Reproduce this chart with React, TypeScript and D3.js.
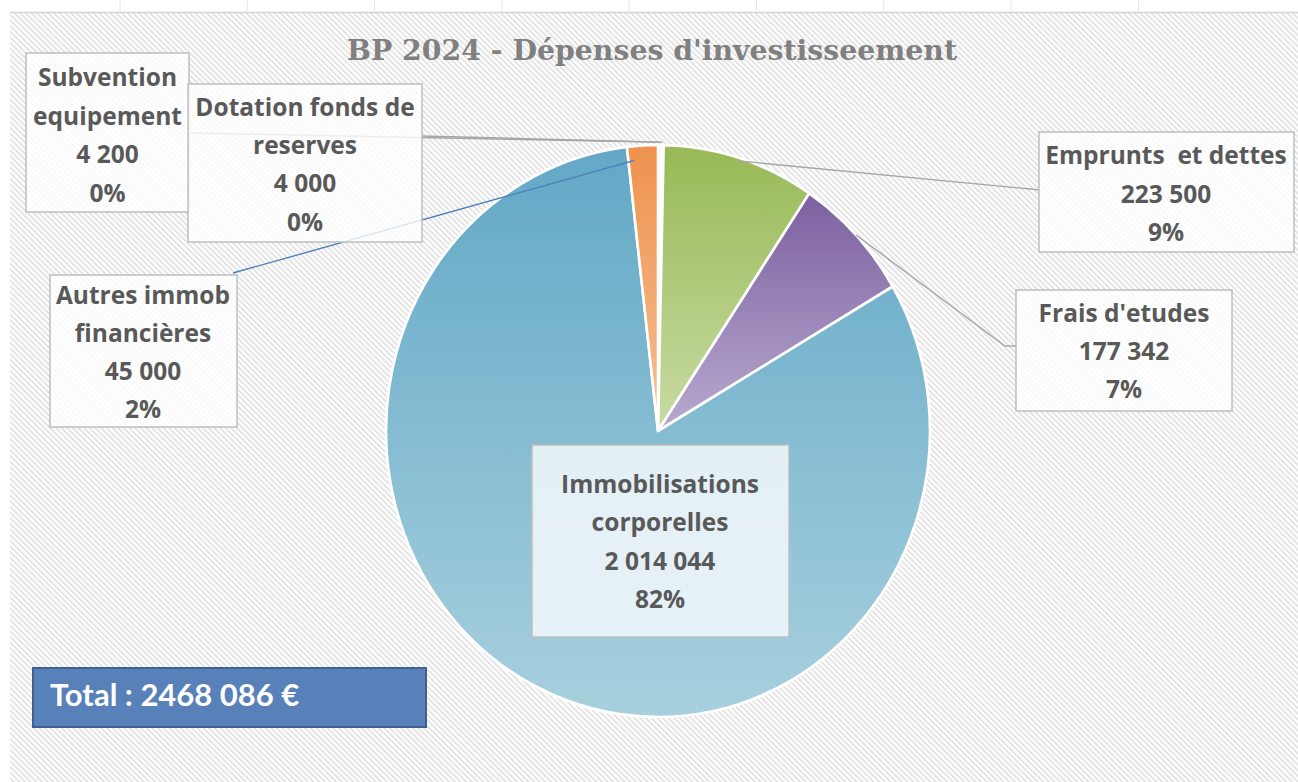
import React from "react";
import * as d3 from "d3";

const title = "BP 2024 - Dépenses d'investisseement";
const categories = [
  "Subvention equipement",
  "Dotation fonds de reserves",
  "Emprunts  et dettes",
  "Frais d'etudes",
  "Immobilisations corporelles",
  "Autres immob financières",
];
const labelLines = [
  ["Subvention", "equipement"],
  ["Dotation fonds de", "reserves"],
  ["Emprunts  et dettes"],
  ["Frais d'etudes"],
  ["Immobilisations", "corporelles"],
  ["Autres immob", "financières"],
];
const values = [4200, 4000, 223500, 177342, 2014044, 45000];
const totalLabel = "Total : 2468 086 €";

const colorTop = ["#4F81BD", "#C0504D", "#98B955", "#7C60A0", "#62A8C6", "#EF924E"];
const colorBottom = ["#8FB0D8", "#DA9593", "#C8DBA4", "#B8AACF", "#A8D0DE", "#F7BF93"];

type Layout = {
  box: [number, number, number, number];
  cx: number;
  base: number;
  step: number;
  leader: [number, number][];
  rf: number;
  shift: number;
  lineColor: string;
  fill: string;
};

const layouts: Layout[] = [
  { box: [26, 53, 163, 159], cx: 107.5, base: 86, step: 38.7, leader: [[189, 133]], rf: 1.01, shift: 0, lineColor: "#A6A6A6", fill: "rgba(255,255,255,0.8)" },
  { box: [188, 84, 234, 158], cx: 305, base: 116, step: 38.2, leader: [[421, 136]], rf: 1.01, shift: 0, lineColor: "#A6A6A6", fill: "rgba(255,255,255,0.8)" },
  { box: [1039, 132, 255, 120], cx: 1166, base: 164, step: 38.5, leader: [[1039, 190], [1030, 189]], rf: 0.99, shift: 0, lineColor: "#A6A6A6", fill: "rgba(255,255,255,0.8)" },
  { box: [1016, 290, 216, 121], cx: 1124, base: 322, step: 38.2, leader: [[1016, 346], [1005, 346]], rf: 1.0, shift: 0, lineColor: "#A6A6A6", fill: "rgba(255,255,255,0.8)" },
  { box: [532, 445, 257, 192], cx: 660, base: 493, step: 38.3, leader: [], rf: 1, shift: 0, lineColor: "#A6A6A6", fill: "rgba(240,247,250,0.88)" },
  { box: [50, 275, 187, 152], cx: 143, base: 304, step: 38, leader: [[233, 273]], rf: 0.95, shift: -0.035, lineColor: "#4F81BD", fill: "rgba(255,255,255,0.8)" },
];

const W = 1298;
const H = 782;
const CX = 658;
const CY = 431;
const RX = 272;
const RY = 286;

export default function App() {
  const total = d3.sum(values);
  const pie = d3.pie<number>().sort(null).value((d) => d);
  const arcs = pie(values);
  const arc = d3.arc<d3.PieArcDatum<number>>().innerRadius(0).outerRadius(RX);
  const fmt = (v: number) => d3.format(",")(v).replace(/,/g, " ");
  const pct = (v: number) => d3.format(".0%")(v / total);

  const pointAt = (a: number, f: number): [number, number] => [
    CX + RX * f * Math.sin(a),
    CY - RY * f * Math.cos(a),
  ];

  const line = d3.line();
  const gridXs = d3.range(0, 9).map((i) => 120 + i * 127.3);

  return (
    <svg width={W} height={H} style={{ position: "absolute", left: 0, top: 0 }}>
      <defs>
        <pattern id="stripes" width="4" height="4" patternUnits="userSpaceOnUse" patternTransform="rotate(-45)">
          <rect width="4" height="4" fill="#FFFFFF" />
          <rect width="1.7" height="4" fill="#E0E0E0" />
        </pattern>
        {arcs.map((a, i) => (
          <linearGradient key={i} id={`g${i}`} x1="0" y1="0" x2="0" y2="1">
            <stop offset="0%" stopColor={colorTop[i]} />
            <stop offset="100%" stopColor={colorBottom[i]} />
          </linearGradient>
        ))}
      </defs>
      <rect x={0} y={0} width={W} height={H} fill="#FFFFFF" />
      <rect x={10} y={12} width={W - 10} height={H - 12} fill="url(#stripes)" />
      <line x1={10} x2={W} y1={12.5} y2={12.5} stroke="#D4D4D4" strokeWidth={1.5} />
      {gridXs.map((x, i) => (
        <line key={i} x1={x} x2={x} y1={0} y2={12} stroke="#E6E6E6" strokeWidth={1} />
      ))}

      <text x={652} y={60} textAnchor="middle" fontFamily="'DejaVu Serif', serif" fontWeight="bold" fontSize={28} fill="#808080" textLength={610} lengthAdjust="spacingAndGlyphs">
        {title}
      </text>

      <g transform={`translate(${CX},${CY}) scale(1,${RY / RX})`}>
        {arcs.map((a, i) => (
          <path key={i} d={arc(a) || ""} fill={`url(#g${i})`} stroke="#FFFFFF" strokeWidth={2.6} strokeLinejoin="round" />
        ))}
      </g>

      {arcs.map((a, i) => {
        const L = layouts[i];
        if (!L.leader.length) return null;
        const mid = (a.startAngle + a.endAngle) / 2 + L.shift;
        const pts: [number, number][] = [...L.leader, pointAt(mid, L.rf)];
        return (
          <path key={i} d={line(pts) || ""} fill="none" stroke={L.lineColor} strokeWidth={1.4} />
        );
      })}

      {arcs.map((a, i) => {
        const L = layouts[i];
        const lines = [...labelLines[i], fmt(values[i]), pct(values[i])];
        const [bx, by, bw, bh] = L.box;
        return (
          <g key={i}>
            <rect x={bx} y={by} width={bw} height={bh} fill={L.fill} stroke="#BFBFBF" strokeWidth={1.5} />
            {lines.map((t, j) => (
              <text key={j} x={L.cx} y={L.base + j * L.step} textAnchor="middle" fontFamily="'Open Sans', sans-serif" fontWeight="bold" fontSize={24.5} fill="#595959" style={{ whiteSpace: "pre" }}>
                {t}
              </text>
            ))}
          </g>
        );
      })}

      <rect x={33} y={668} width={393} height={59} fill="#5880B9" stroke="#3F6090" strokeWidth={2} />
      <text x={50} y={706} fontFamily="Lato, sans-serif" fontWeight="bold" fontSize={31} fill="#FFFFFF">
        {totalLabel}
      </text>
    </svg>
  );
}
